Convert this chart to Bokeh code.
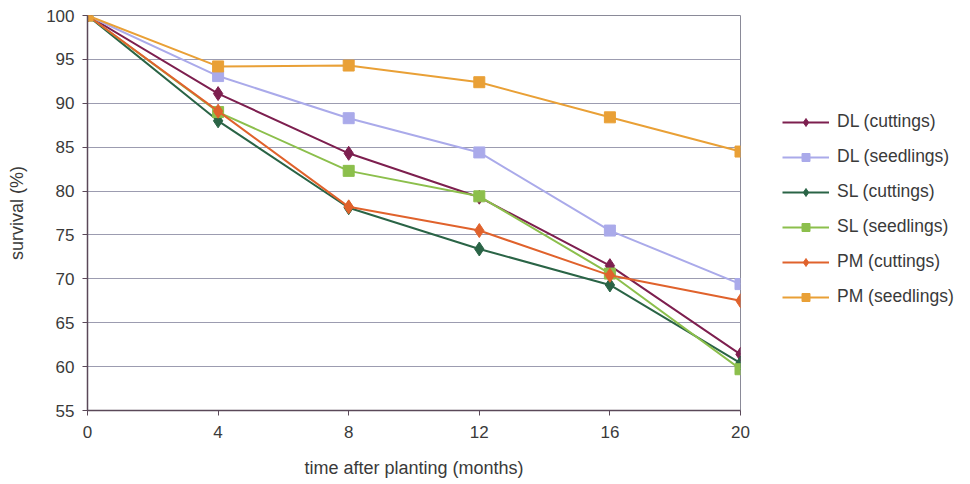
from bokeh.plotting import figure
from bokeh.layouts import row
from bokeh.models import Legend, LegendItem, Range1d, FixedTicker
from bokeh.embed import file_html
from bokeh.resources import INLINE

months = [0, 4, 8, 12, 16, 20]
dl_cuttings = [100, 91.1, 84.3, 79.3, 71.5, 61.4]
dl_seedlings = [100, 93.1, 88.3, 84.4, 75.5, 69.4]
sl_cuttings = [100, 88.0, 78.1, 73.4, 69.3, 60.4]
sl_seedlings = [100, 89.0, 82.3, 79.4, 70.6, 59.7]
pm_cuttings = [100, 89.1, 78.2, 75.5, 70.4, 67.5]
pm_seedlings = [100, 94.2, 94.3, 92.4, 88.4, 84.5]

series = [
    ("DL (cuttings)", dl_cuttings, "#7d1f4f", "diamond"),
    ("DL (seedlings)", dl_seedlings, "#aaaaea", "square"),
    ("SL (cuttings)", sl_cuttings, "#2a6446", "diamond"),
    ("SL (seedlings)", sl_seedlings, "#8cbf4c", "square"),
    ("PM (cuttings)", pm_cuttings, "#e0622c", "diamond"),
    ("PM (seedlings)", pm_seedlings, "#e9a036", "square"),
]

FONT = "Liberation Sans"
TXT = "#3a3a3a"

p = figure(frame_width=653, frame_height=395, output_backend="svg", toolbar_location=None,
           x_range=Range1d(0, 20), y_range=Range1d(55, 100),
           min_border_left=87, min_border_right=14, min_border_top=15, min_border_bottom=74)
p.outline_line_color = "#8a8a98"
p.background_fill_color = "white"

# legend-only figure on the right (its ranges keep the copied series out of view)
lg = figure(width=216, height=484, output_backend="svg", toolbar_location=None,
            x_axis_type=None, y_axis_type=None,
            x_range=Range1d(1000, 1001), y_range=Range1d(1000, 1001),
            min_border_left=0, min_border_top=15, min_border_right=0, min_border_bottom=74)
lg.outline_line_color = None
lg.xgrid.grid_line_color = None
lg.ygrid.grid_line_color = None

items = []
for name, vals, col, mk in series:
    p.line(months, vals, line_color=col, line_width=2)
    size = 14 if mk == "diamond" else 11
    p.scatter(months, vals, marker=mk, size=size, fill_color=col, line_color=col)
    l1 = lg.line(months, vals, line_color=col, line_width=2)
    l2 = lg.scatter(months, vals, marker=mk, size=(13 if mk == "diamond" else 10),
                    fill_color=col, line_color=col)
    items.append(LegendItem(label=name, renderers=[l1, l2]))

p.xaxis.ticker = FixedTicker(ticks=months)
p.yaxis.ticker = FixedTicker(ticks=list(range(55, 101, 5)))
p.xaxis.axis_label = "time after planting (months)"
p.yaxis.axis_label = "survival (%)"
for ax in (p.xaxis[0], p.yaxis[0]):
    ax.axis_label_text_font = FONT
    ax.axis_label_text_font_style = "normal"
    ax.axis_label_text_font_size = "18px"
    ax.axis_label_text_color = TXT
    ax.major_label_text_font = FONT
    ax.major_label_text_font_size = "17px"
    ax.major_label_text_color = TXT
    ax.axis_line_color = "#5a4858"
    ax.axis_line_width = 1.5
    ax.major_tick_line_color = "#5a4858"
    ax.major_tick_out = 5
    ax.major_tick_in = 0
    ax.minor_tick_line_color = None
p.xaxis.major_label_standoff = 10
p.xaxis.axis_label_standoff = 17
p.yaxis.major_label_standoff = 8
p.yaxis.axis_label_standoff = 16

p.xgrid.grid_line_color = None
p.ygrid.grid_line_color = "#9c9cb0"
p.ygrid.grid_line_width = 1

legend = Legend(items=items, location=(28, 103))
legend.label_text_font = FONT
legend.label_text_font_size = "17.5px"
legend.label_text_color = TXT
legend.glyph_width = 47
legend.glyph_height = 20
legend.label_height = 20
legend.label_standoff = 8
legend.spacing = 14
legend.padding = 0
legend.margin = 0
legend.border_line_alpha = 0
legend.background_fill_alpha = 0
lg.add_layout(legend, "center")

layout = row(p, lg, spacing=0)
open("out.html", "w").write(file_html(layout, INLINE))
